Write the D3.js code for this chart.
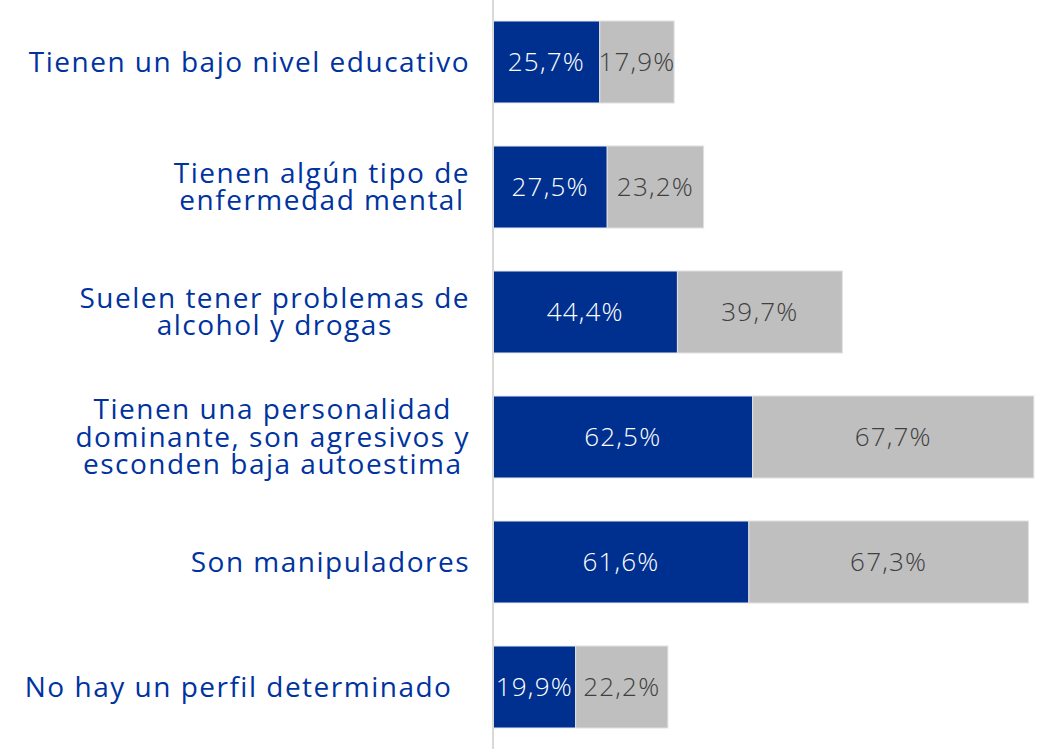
<!DOCTYPE html>
<html><head><meta charset="utf-8">
<script src="https://cdn.jsdelivr.net/npm/d3@7"></script>
<style>body{margin:0;background:#fff}svg{display:block}</style>
</head><body>
<script>
const categories = [
  ["Tienen un bajo nivel educativo"],
  ["Tienen algún tipo de","enfermedad mental"],
  ["Suelen tener problemas de","alcohol y drogas"],
  ["Tienen una personalidad","dominante, son agresivos y","esconden baja autoestima"],
  ["Son manipuladores"],
  ["No hay un perfil determinado\u00a0\u00a0"]
];
const seriesA = [25.7, 27.5, 44.4, 62.5, 61.6, 19.9];
const seriesB = [17.9, 23.2, 39.7, 67.7, 67.3, 22.2];
const fmt = v => v.toFixed(1).replace(".", ",") + "%";

const W = 1041, H = 749;
const svg = d3.select("body").append("svg").attr("width", W).attr("height", H);
const keys = categories.map((c,i)=>i);
const y = d3.scaleBand().domain(keys).range([-0.5, 749.5]).paddingInner(0.344).paddingOuter(0.172);
const x = d3.scaleLinear().domain([0, 130]).range([493, 1033]);

const font = "'Open Sans', sans-serif";
// bars
keys.forEach(i => {
  const a = seriesA[i], b = seriesB[i];
  svg.append("rect").attr("x", x(0)).attr("y", y(i)).attr("width", x(a)-x(0)).attr("height", y.bandwidth())
    .attr("fill", "#00308F").attr("stroke", "#e6e9f2").attr("stroke-width", 1);
  svg.append("rect").attr("x", x(a)).attr("y", y(i)).attr("width", x(a+b)-x(a)).attr("height", y.bandwidth())
    .attr("fill", "#bfbfbf").attr("stroke", "#e0e0e0").attr("stroke-width", 1);
  const cy = y(i) + y.bandwidth()/2;
  svg.append("text").attr("x", (x(0)+x(a))/2).attr("y", cy).attr("dy", "0.36em")
    .attr("text-anchor","middle").attr("fill","#fff").style("font-family",font).style("font-size","26px")
    .style("font-weight","300").style("letter-spacing","1.2px")
    .text(fmt(a));
  svg.append("text").attr("x", (x(a)+x(a+b))/2).attr("y", cy).attr("dy", "0.36em")
    .attr("text-anchor","middle").attr("fill","#404040").style("font-family",font).style("font-size","26px")
    .style("font-weight","300").style("letter-spacing","1.2px")
    .text(fmt(b));
});
// axis line
svg.append("line").attr("x1", x(0)).attr("x2", x(0)).attr("y1", 0).attr("y2", H)
  .attr("stroke", "#d9d9d9").attr("stroke-width", 2);

// category labels
const rightEdge = 470, lineH = 27.5;
keys.forEach(i => {
  const lines = categories[i];
  const cy = y(i) + y.bandwidth()/2;
  const t = svg.append("text")
    .attr("text-anchor","middle").attr("fill","#0033A0")
    .style("font-family",font).style("font-size","28px").style("font-weight","500").style("letter-spacing","1.5px");
  const spans = lines.map((l, j) => t.append("tspan")
    .attr("y", cy + (j - (lines.length-1)/2)*lineH).attr("dy","0.34em")
    .text(l));
  const maxW = d3.max(spans, s => s.node().getComputedTextLength());
  spans.forEach(s => s.attr("x", rightEdge - maxW/2));
});
</script>
</body></html>
